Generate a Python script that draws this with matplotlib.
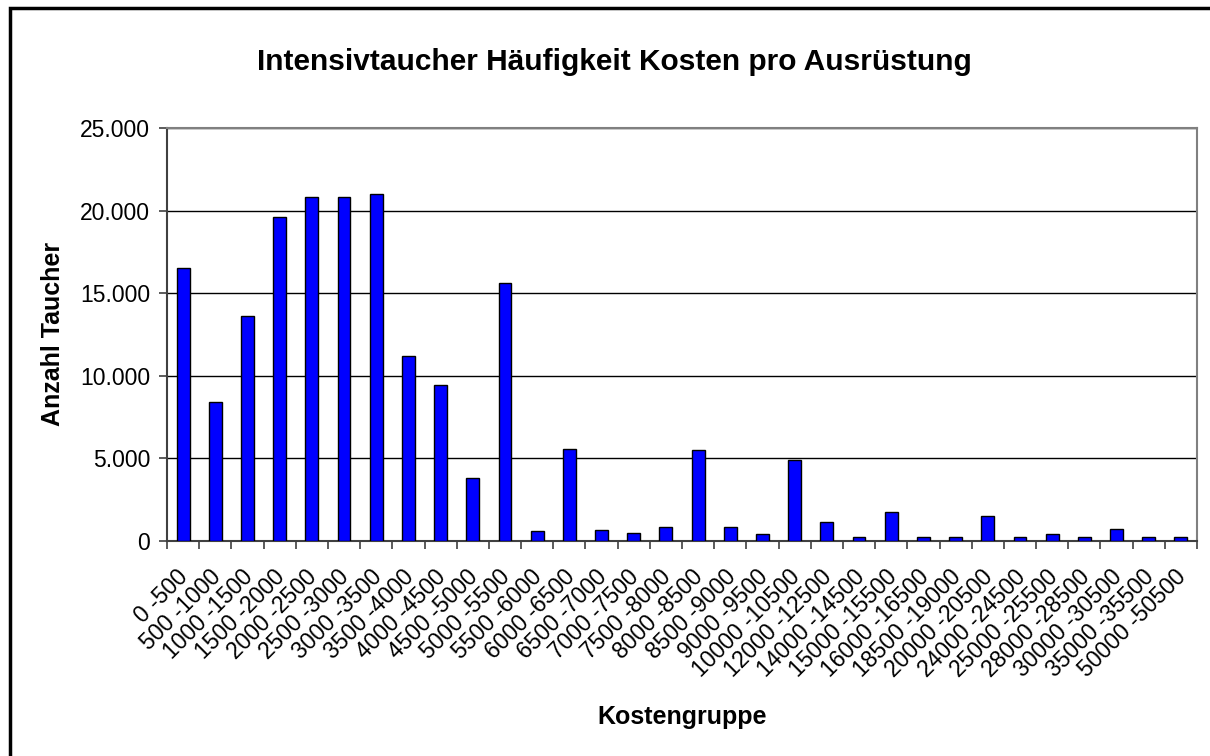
import matplotlib
matplotlib.use('Agg')
import matplotlib.pyplot as plt
from matplotlib.patches import Rectangle
from matplotlib.ticker import FuncFormatter, FixedLocator
import numpy as np

plt.rcParams['font.family'] = ['Liberation Sans', 'DejaVu Sans']

# Kostengruppen und Anzahl Taucher
gruppen = ['0 -500', '500 -1000', '1000 -1500', '1500 -2000', '2000 -2500',
           '2500 -3000', '3000 -3500', '3500 -4000', '4000 -4500', '4500 -5000',
           '5000 -5500', '5500 -6000', '6000 -6500', '6500 -7000', '7000 -7500',
           '7500 -8000', '8000 -8500', '8500 -9000', '9000 -9500', '10000 -10500',
           '12000 -12500', '14000 -14500', '15000 -15500', '16000 -16500',
           '18500 -19000', '20000 -20500', '24000 -24500', '25000 -25500',
           '28000 -28500', '30000 -30500', '35000 -35500', '50000 -50500']
anzahl = [16500, 8400, 13600, 19600, 20800, 20850, 21000, 11200, 9450, 3800,
          15600, 600, 5570, 680, 470, 870, 5500, 870, 400, 4900,
          1170, 220, 1780, 220, 220, 1490, 220, 400, 220, 710, 220, 220]

fig = plt.figure(figsize=(12.1, 7.56), dpi=100)
ax = fig.add_axes([167 / 1210, 1 - 541 / 756, 1030 / 1210, 413 / 756])

x = np.arange(len(gruppen))
ax.bar(x, anzahl, width=0.4, color='#0000ff', edgecolor='black', linewidth=1, zorder=3)

ax.set_xlim(-0.5, len(gruppen) - 0.5)
ax.set_ylim(0, 25000)
ax.set_yticks(np.arange(0, 25001, 5000))
ax.yaxis.set_major_formatter(FuncFormatter(lambda v, p: '{:,.0f}'.format(v).replace(',', '.')))
ax.grid(axis='y', color='black', linewidth=1, zorder=0)

ax.set_xticks(x)
ax.set_xticklabels(gruppen, rotation=45, ha='right', va='center_baseline',
                   rotation_mode='anchor', fontsize=16.5)
ax.tick_params(axis='x', which='major', length=0, pad=22)
ax.xaxis.set_minor_locator(FixedLocator(np.arange(-0.5, len(gruppen), 1)))
ax.tick_params(axis='x', which='minor', length=6, width=1.2, color='#404040', direction='out')
ax.tick_params(axis='y', labelsize=16.5, length=6, width=1.2, color='#404040', pad=6)

for side in ['left', 'bottom']:
    ax.spines[side].set_color('#404040')
    ax.spines[side].set_linewidth(1.5)
for side in ['top', 'right']:
    ax.spines[side].set_color('#808080')
    ax.spines[side].set_linewidth(1.5)

fig.text(614 / 1210, 1 - 62 / 756, 'Intensivtaucher Häufigkeit Kosten pro Ausrüstung',
         fontsize=21.5, fontweight='bold', ha='center', va='center')
fig.text(53 / 1210, 1 - 334 / 756, 'Anzahl Taucher', fontsize=18, fontweight='bold',
         rotation=90, ha='center', va='center')
fig.text(682 / 1210, 1 - 717 / 756, 'Kostengruppe', fontsize=18, fontweight='bold',
         ha='center', va='center')

# Rahmen um das Diagramm
fig.patches.append(Rectangle((10 / 1210, -0.1), 1.2, (756 - 8) / 756 + 0.1,
                             transform=fig.transFigure, fill=False,
                             edgecolor='black', linewidth=2.5))

fig.savefig('out.png', dpi=100)
